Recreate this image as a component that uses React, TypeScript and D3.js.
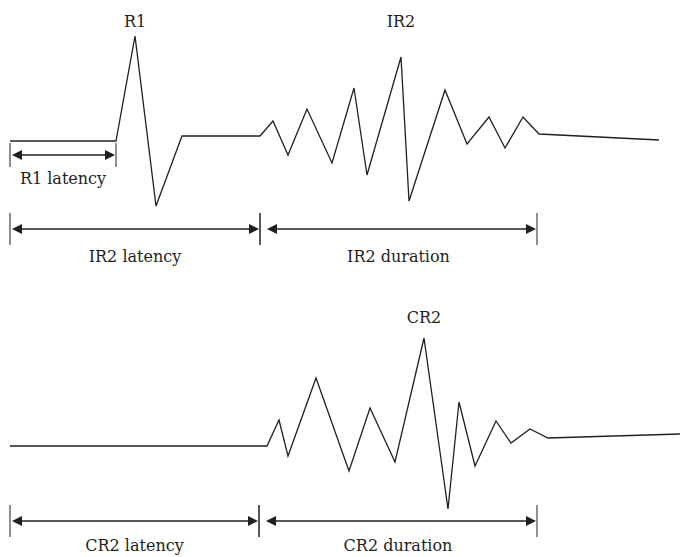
import React from "react";
import * as d3 from "d3";

// time (arbitrary units from trace start) and amplitude (up = positive)
const ipsiTime = [0, 106, 125, 146, 172, 250, 263, 278, 297, 322, 344, 357, 391, 399, 435, 457, 479, 495, 513, 529, 649];
const ipsiAmp = [0, 0, 105, -65, 5, 5, 20, -14, 32, -22, 53, -34, 84, -60, 51, -3, 24, -7, 24, 7, 1];

const contraTime = [0, 257, 269, 278, 306, 339, 360, 385, 414, 438, 449, 465, 486, 501, 520, 538, 670];
const contraAmp = [0, 0, 26, -10, 68, -25, 38, -16, 108, -63, 44, -20, 25, 3, 17, 8, 12];

const peakLabels = ["R1", "IR2", "CR2"];
const peakTimes = [125, 391, 414];
const peakTrace = ["ipsi", "ipsi", "contra"];

const spanLabels = ["R1 latency", "IR2 latency", "IR2 duration", "CR2 latency", "CR2 duration"];
const spanStart = [0, 0, 250, 0, 249];
const spanEnd = [106, 250, 527, 249, 527];
const spanTrace = ["ipsi", "ipsi", "ipsi", "contra", "contra"];
const spanRow = [0, 1, 1, 1, 1];

const W = 680;
const H = 557;
const INK = "#231f20";
const FONT = "'DejaVu Serif', serif";

export default function App() {
  const x = d3.scaleLinear().domain([0, 670]).range([10, 680]);
  const yIpsi = d3.scaleLinear().domain([-100, 100]).range([241, 41]);
  const yContra = d3.scaleLinear().domain([-100, 100]).range([546, 346]);

  const ipsi = ipsiTime.map((t, i) => [t, ipsiAmp[i]] as [number, number]);
  const contra = contraTime.map((t, i) => [t, contraAmp[i]] as [number, number]);

  const lineIpsi = d3.line<[number, number]>().x((d) => x(d[0])).y((d) => yIpsi(d[1]));
  const lineContra = d3.line<[number, number]>().x((d) => x(d[0])).y((d) => yContra(d[1]));

  // vertical layout of the measurement rows
  const rowY = (trace: string, row: number) =>
    trace === "ipsi" ? (row === 0 ? 155 : 229) : 521;
  const tickHalf = (row: number) => (row === 0 ? 12 : 16);

  const arrow = (xt: number, y: number, dir: number) => {
    // dir = -1 points left, 1 points right
    const len = 10;
    const half = 5;
    return `M${xt},${y} L${xt - dir * len},${y - half} L${xt - dir * len},${y + half} Z`;
  };

  return (
    <div style={{ position: "fixed", left: 0, top: 0 }}>
      <svg width={W} height={H} style={{ display: "block", background: "#fff" }}>
        <path d={lineIpsi(ipsi) || ""} fill="none" stroke={INK} strokeWidth={1.3} strokeLinejoin="miter" />
        <path d={lineContra(contra) || ""} fill="none" stroke={INK} strokeWidth={1.3} strokeLinejoin="miter" />

        {peakLabels.map((lab, i) => {
          const isIpsi = peakTrace[i] === "ipsi";
          return (
            <text
              key={lab}
              x={x(peakTimes[i])}
              y={isIpsi ? 27 : 323}
              textAnchor="middle"
              fontFamily={FONT}
              fontSize={16}
              fill={INK}
            >
              {lab}
            </text>
          );
        })}

        {spanLabels.map((lab, i) => {
          const y = rowY(spanTrace[i], spanRow[i]);
          const th = tickHalf(spanRow[i]);
          const x0 = x(spanStart[i]);
          const x1 = x(spanEnd[i]);
          const isDuration = lab.includes("duration");
          const tip0 = x0 + (isDuration ? 7 : 2);
          const tip1 = x1 - 1;
          const labelY = spanTrace[i] === "ipsi" ? (spanRow[i] === 0 ? 184 : 262) : 551;
          return (
            <g key={lab}>
              <line x1={x0} x2={x0} y1={y - th} y2={y + th} stroke={INK} strokeWidth={1} />
              <line x1={x1} x2={x1} y1={y - th} y2={y + th} stroke={INK} strokeWidth={1} />
              <line x1={tip0 + 8} x2={tip1 - 8} y1={y} y2={y} stroke={INK} strokeWidth={1.3} />
              <path d={arrow(tip0, y, -1)} fill={INK} />
              <path d={arrow(tip1, y, 1)} fill={INK} />
              <text
                x={(x0 + x1) / 2}
                y={labelY}
                textAnchor="middle"
                fontFamily={FONT}
                fontSize={16}
                fill={INK}
              >
                {lab}
              </text>
            </g>
          );
        })}
      </svg>
    </div>
  );
}
